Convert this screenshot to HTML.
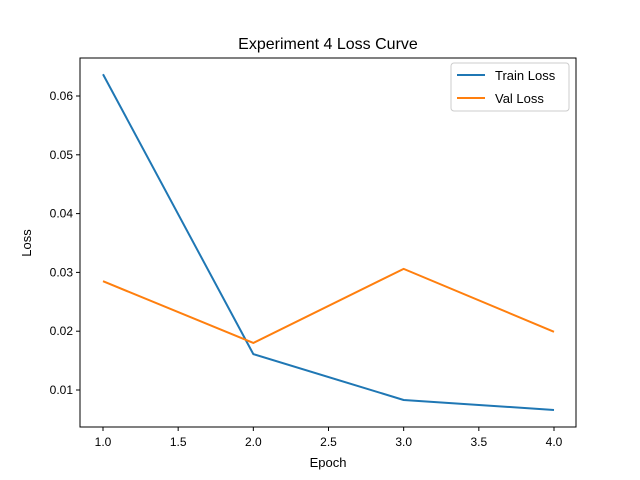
<!DOCTYPE html>
<html><head><meta charset="utf-8"><style>
body{margin:0;background:#fff;}
svg{display:block;font-family:"Liberation Sans","DejaVu Sans",sans-serif;}
</style></head><body>
<svg id="chart" width="640" height="480" viewBox="0 0 640 480">
<rect width="640" height="480" fill="#fff"/>
<text x="328" y="49" font-size="16" text-anchor="middle" fill="#000">Experiment 4 Loss Curve</text>
<g id="grid"></g>
<g id="series"></g>
<rect x="80" y="58" width="496" height="369" fill="none" stroke="#000" stroke-width="1"/>
<text x="328" y="467" font-size="13" text-anchor="middle">Epoch</text>
<text x="31" y="243" font-size="13" text-anchor="middle" transform="rotate(-90 31 243)">Loss</text>
<g>
<rect x="451" y="63" width="118" height="48" rx="3" fill="#fff" stroke="#ccc"/>
<line x1="457" y1="75" x2="485" y2="75" stroke="#1f77b4" stroke-width="2"/>
<text x="495" y="80" font-size="13">Train Loss</text>
<line x1="457" y1="98" x2="485" y2="98" stroke="#ff7f0e" stroke-width="2"/>
<text x="495" y="103" font-size="13">Val Loss</text>
</g>
</svg>
<script>
const epochs=[1,2,3,4];
const trainLoss=[0.0637,0.0161,0.0083,0.0066];
const valLoss=[0.0285,0.0180,0.0306,0.0199];
const xTicks=[1.0,1.5,2.0,2.5,3.0,3.5,4.0];
const yTicks=[0.01,0.02,0.03,0.04,0.05,0.06];
const NS="http://www.w3.org/2000/svg";
function xs(v){return 103+(v-1)*150.33;}
function ys(v){return 390-(v-0.01)*5880;}
const g=document.getElementById('grid');
function mk(tag,attrs,parent){const e=document.createElementNS(NS,tag);for(const k in attrs)e.setAttribute(k,attrs[k]);parent.appendChild(e);return e;}
xTicks.forEach(t=>{
 const l=mk('line',{x1:xs(t),x2:xs(t),y1:427,y2:431,stroke:'#000'},g);
 
 
 const tx=mk('text',{x:xs(t),y:446,'font-size':12,'text-anchor':'middle'},g);
 tx.textContent=t.toFixed(1);
 
 
});
yTicks.forEach(t=>{
 const l=mk('line',{x1:76,x2:80,y1:ys(t),y2:ys(t),stroke:'#000'},g);
 
 
 const tx=mk('text',{x:73,y:ys(t)+4,'font-size':12,'text-anchor':'end'},g);
 tx.textContent=t.toFixed(2);
 
 
});
const s=document.getElementById('series');
function line(vals,color,name){
 const p=mk('polyline',{points:vals.map((v,i)=>xs(epochs[i])+','+ys(v)).join(' '),fill:'none',stroke:color,'stroke-width':2,'stroke-linejoin':'round'},s);
 
 
}
line(trainLoss,'#1f77b4','train-loss-line');
line(valLoss,'#ff7f0e','val-loss-line');
</script>
</body></html>
